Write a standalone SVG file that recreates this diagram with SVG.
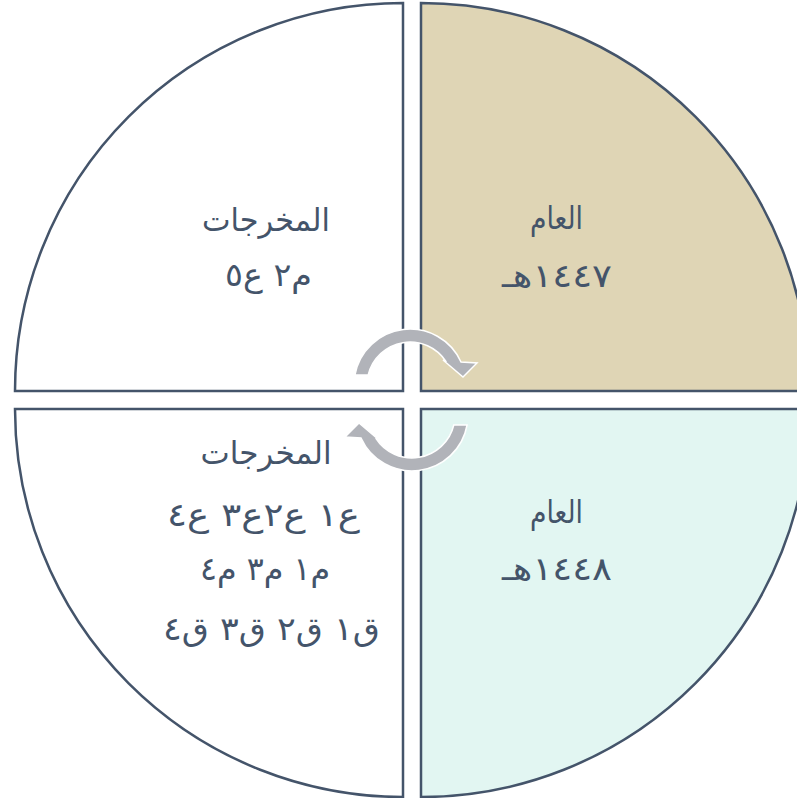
<svg xmlns="http://www.w3.org/2000/svg" width="797" height="798" viewBox="0 0 797 798">
<style>
.q{stroke:#44546a;stroke-width:2.5;stroke-linejoin:miter}
.t{font-family:"DejaVu Sans","Noto Sans Arabic",sans-serif;font-size:32px;fill:#44546a;text-anchor:middle;direction:rtl}
.arr{fill:#b1b3b9;stroke:#ffffff;stroke-width:1.5;stroke-linejoin:miter}
</style>
<rect width="797" height="798" fill="#ffffff"/>
<g id="q-top-left">
<path class="q" fill="#ffffff" d="M403,391 L15,391 A388,388 0 0 1 403,3 Z"/>
<text class="t" x="266" y="231" textLength="128" lengthAdjust="spacingAndGlyphs">المخرجات</text>
<text class="t" x="268.5" y="286" textLength="87" lengthAdjust="spacingAndGlyphs">م٢ ع٥</text>
</g>
<g id="q-top-right">
<path class="q" fill="#dfd5b5" d="M421,391 L421,3 A388,388 0 0 1 809,391 Z"/>
<text class="t" x="556.5" y="229" textLength="53" lengthAdjust="spacingAndGlyphs">العام</text>
<text class="t" x="557" y="287" textLength="110" lengthAdjust="spacingAndGlyphs">١٤٤٧هـ</text>
</g>
<g id="q-bottom-left">
<path class="q" fill="#ffffff" d="M403,409 L403,797 A388,388 0 0 1 15,409 Z"/>
<text class="t" x="266" y="464" textLength="131" lengthAdjust="spacingAndGlyphs">المخرجات</text>
<text class="t" x="263.5" y="526" textLength="193" lengthAdjust="spacingAndGlyphs">ع١ ع٢ع٣ ع٤</text>
<text class="t" x="265" y="580" textLength="130" lengthAdjust="spacingAndGlyphs">م١ م٣ م٤</text>
<text class="t" x="271.5" y="640" textLength="217" lengthAdjust="spacingAndGlyphs">ق١ ق٢ ق٣ ق٤</text>
</g>
<g id="q-bottom-right">
<path class="q" fill="#e2f6f2" d="M421,409 L809,409 A388,388 0 0 1 421,797 Z"/>
<text class="t" x="556.5" y="523" textLength="53" lengthAdjust="spacingAndGlyphs">العام</text>
<text class="t" x="557" y="580" textLength="110" lengthAdjust="spacingAndGlyphs">١٤٤٨هـ</text>
</g>
<g id="connectors">
<path class="arr" d="M354.9,375 A56,56 0 0 1 461,362 L477,363 L463,377 L443,360 L446.3,362 A43,43 0 0 0 368.2,375 Z"/>
<path class="arr" transform="rotate(180 411 400)" d="M354.9,375 A56,56 0 0 1 461,362 L477,363 L463,377 L443,360 L446.3,362 A43,43 0 0 0 368.2,375 Z"/>
</g>
</svg>
